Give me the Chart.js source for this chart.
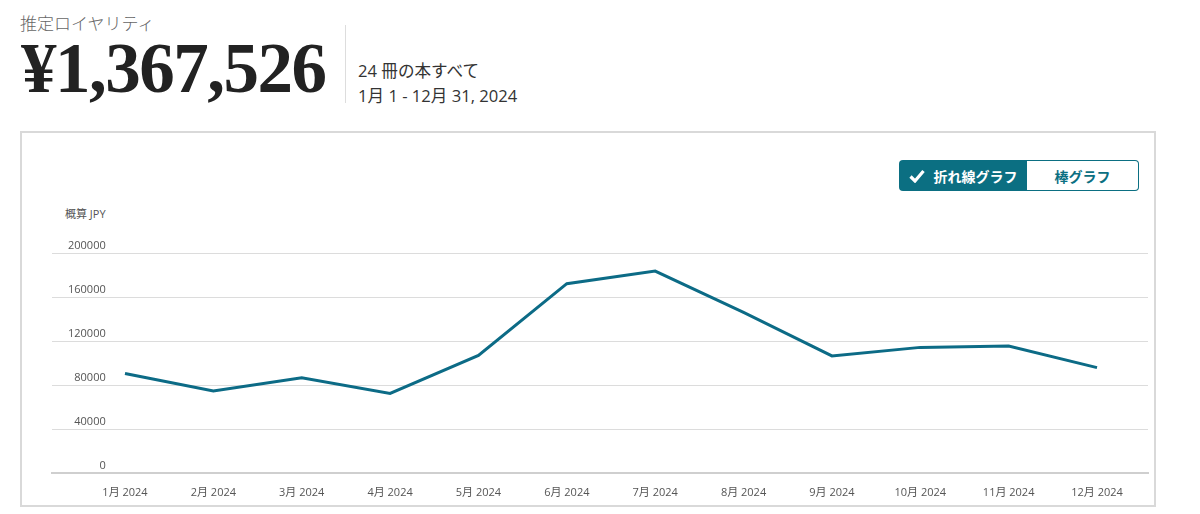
<!DOCTYPE html>
<html lang="ja">
<head>
    <meta charset="UTF-8">
    <title>推定ロイヤリティ</title>
    <script src="https://cdn.jsdelivr.net/npm/chart.js"></script>
    <style>
        body {
            margin: 0;
            width: 1200px;
            height: 514px;
            position: relative;
            background: #fff;
            font-family: 'Open Sans', 'Noto Sans CJK JP', sans-serif;
            overflow: hidden;
        }
        .label {
            position: absolute;
            left: 20px;
            top: 10px;
            font-size: 17px;
            color: #666;
            font-weight: 300;
        }
        .total {
            position: absolute;
            left: 21px;
            top: 33px;
            font-family: 'Liberation Serif', serif;
            font-weight: bold;
            font-size: 71px;
            letter-spacing: -1.5px;
            color: #222;
            line-height: 71px;
        }
        .divider {
            position: absolute;
            left: 345px;
            top: 25px;
            width: 1px;
            height: 78px;
            background: #ddd;
        }
        .sub {
            position: absolute;
            left: 358px;
            font-size: 16.6px;
            color: #333;
        }
        .box {
            position: absolute;
            left: 20px;
            top: 131px;
            width: 1132px;
            height: 372px;
            border: 2px solid #d9d9d9;
        }
        .toggle {
            position: absolute;
            left: 899px;
            top: 160px;
            height: 31px;
            display: flex;
            font-size: 14px;
            font-weight: bold;
        }
        .toggle div {
            display: flex;
            align-items: center;
            justify-content: center;
            box-sizing: border-box;
        }
        .on {
            width: 128px;
            background: #0b6f82;
            color: #fff;
            border-radius: 4px 0 0 4px;
        }
        .off {
            width: 112px;
            border: 1px solid #0b6f82;
            border-left: none;
            color: #0b6f82;
            border-radius: 0 4px 4px 0;
        }
        .unit {
            position: absolute;
            left: 65px;
            top: 205px;
            font-size: 11px;
            color: #555;
        }
        #wrap {
            position: absolute;
            left: 40px;
            top: 228px;
            width: 1120px;
            height: 280px;
        }
    </style>
</head>
<body>
    <div class="label">推定ロイヤリティ</div>
    <div class="total">¥1,367,526</div>
    <div class="divider"></div>
    <div class="sub" style="top:58px">24 冊の本すべて</div>
    <div class="sub" style="top:83px">1月 1 - 12月 31, 2024</div>
    <div class="box"></div>
    <div class="toggle">
        <div class="on"><svg width="16" height="14" viewBox="0 0 16 14" style="margin-right:9px"><path d="M1.5 7.5 L6 12 L14.5 2" fill="none" stroke="#fff" stroke-width="3.2"/></svg>折れ線グラフ</div>
        <div class="off">棒グラフ</div>
    </div>
    <div class="unit">概算 JPY</div>
    <div id="wrap"><canvas id="chart"></canvas></div>

    <script>
        // 月ラベルとロイヤリティ (JPY)
        const months = ['1月 2024', '2月 2024', '3月 2024', '4月 2024', '5月 2024', '6月 2024',
                        '7月 2024', '8月 2024', '9月 2024', '10月 2024', '11月 2024', '12月 2024'];
        const royalty = [90500, 74500, 86600, 72400, 106900, 172100,
                         183600, 146000, 106400, 114200, 115500, 95800];
        const yTicks = [0, 40000, 80000, 120000, 160000, 200000];

        const points = royalty.map((v, i) => ({ x: i, y: v }));
        const tickFont = { size: 11, family: "'Open Sans', 'Noto Sans CJK JP', sans-serif" };

        new Chart(document.getElementById('chart'), {
            type: 'line',
            data: {
                datasets: [{
                    data: points,
                    borderColor: '#0c6b86',
                    borderWidth: 3,
                    pointRadius: 0,
                    tension: 0
                }]
            },
            options: {
                responsive: true,
                maintainAspectRatio: false,
                animation: false,
                layout: { padding: { left: 12, right: 12, top: 25, bottom: 0 } },
                plugins: {
                    legend: { display: false },
                    tooltip: { enabled: false }
                },
                scales: {
                    x: {
                        type: 'linear',
                        min: -0.826,
                        max: 11.577,
                        afterFit: axis => { axis.height = 35; },
                        grid: { display: false },
                        border: { color: '#cfcfcf', width: 2 },
                        ticks: {
                            stepSize: 1,
                            includeBounds: false,
                            autoSkip: false,
                            maxRotation: 0,
                            padding: 5,
                            color: '#555',
                            font: tickFont,
                            callback: v => months[v] || ''
                        }
                    },
                    y: {
                        min: 0,
                        max: 200000,
                        afterFit: axis => { axis.width = 0; },
                        afterBuildTicks: axis => { axis.ticks = yTicks.map(v => ({ value: v })); },
                        grid: { color: '#dcdcdc', lineWidth: 1, drawTicks: false },
                        border: { display: false },
                        ticks: {
                            mirror: true,
                            crossAlign: 'far',
                            padding: 16,
                            labelOffset: -7,
                            color: '#555',
                            font: tickFont,
                            callback: v => String(v)
                        }
                    }
                }
            }
        });
    </script>
</body>
</html>
